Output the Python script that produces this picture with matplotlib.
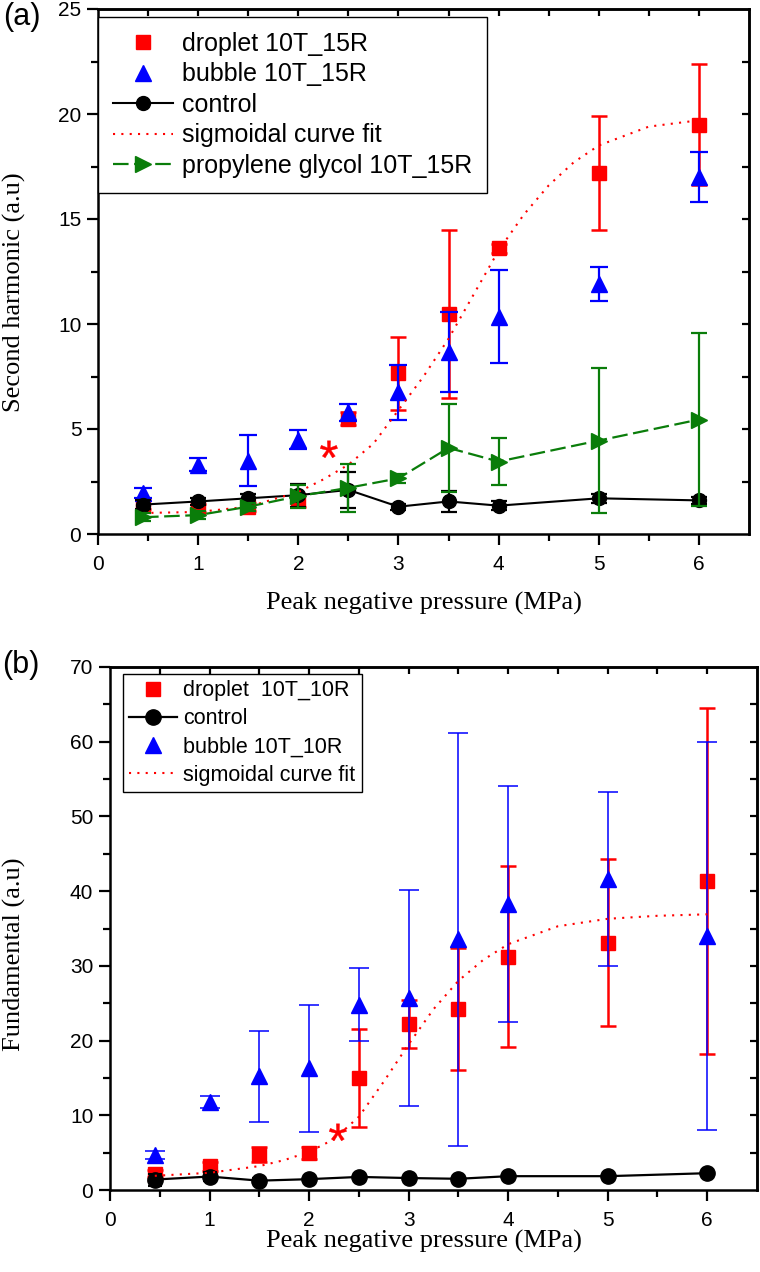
import matplotlib.pyplot as plt
import numpy as np
from matplotlib.font_manager import FontProperties
from matplotlib.path import Path
from matplotlib.textpath import TextPath

# ============================================================
# Data
# ============================================================

pressure = [0.45, 1.0, 1.5, 2.0, 2.5, 3.0, 3.5, 4.0, 5.0, 6.0]

# (a) second harmonic
drop_a = [1.4, 1.25, 1.3, 1.6, 5.5, 7.65, 10.5, 13.6, 17.2, 19.5]
drop_a_err = [0.2, 0.2, 0.2, 0.3, 0.3, 1.75, 4.0, 0.2, 2.7, 2.9]
bub_a = [1.95, 3.3, 3.5, 4.5, 5.8, 6.75, 8.65, 10.35, 11.9, 17.0]
bub_a_err = [0.25, 0.3, 1.2, 0.45, 0.4, 1.3, 1.9, 2.2, 0.8, 1.2]
ctrl_a = [1.4, 1.55, 1.7, 1.85, 2.1, 1.3, 1.55, 1.35, 1.7, 1.6]
ctrl_a_err = [0.2, 0.15, 0.2, 0.55, 0.87, 0.15, 0.5, 0.2, 0.2, 0.15]
pg_a = [0.8, 0.9, 1.3, 1.8, 2.2, 2.65, 4.1, 3.45, 4.45, 5.45]
pg_a_err = [0.2, 0.2, 0.2, 0.55, 1.15, 0.2, 2.1, 1.1, 3.45, 4.1]

fit_a_x = [0.45, 1.0, 1.5, 2.0, 2.25, 2.5, 2.75, 3.0, 3.25, 3.5, 3.75,
           4.0, 4.25, 4.5, 4.75, 5.0, 5.5, 6.0]
fit_a_y = [1.0, 1.05, 1.3, 2.0, 2.6, 3.3, 4.3, 5.9, 7.5, 9.3, 11.4,
           13.5, 15.2, 16.6, 17.7, 18.5, 19.4, 19.7]

star_a = (2.3, 3.66)

# (b) fundamental
drop_b = [2.2, 3.2, 4.8, 5.0, 15.0, 22.2, 24.25, 31.25, 33.1, 41.35]
drop_b_err = [0.5, 0.6, 1.0, 0.8, 6.6, 3.2, 8.15, 12.15, 11.2, 23.15]
bub_b = [4.7, 11.8, 15.2, 16.3, 24.8, 25.7, 33.55, 38.3, 41.65, 34.0]
bub_b_err = [0.5, 0.8, 6.1, 8.5, 4.9, 14.4, 27.65, 15.8, 11.65, 26.0]
ctrl_b = [1.4, 1.8, 1.25, 1.45, 1.75, 1.6, 1.5, 1.85, 1.85, 2.25]
ctrl_b_err = [0.8, 0.6, 0.3, 0.2, 0.2, 0.2, 0.2, 0.2, 0.2, 0.2]

fit_b_x = [0.45, 1.0, 1.5, 1.75, 2.0, 2.25, 2.5, 2.75, 3.0, 3.25, 3.5,
           3.75, 4.0, 4.5, 5.0, 5.5, 6.0]
fit_b_y = [1.9, 2.3, 3.2, 4.0, 5.1, 6.8, 9.8, 14.5, 19.5, 24.2, 28.0,
           30.8, 32.9, 35.3, 36.3, 36.7, 36.9]

star_b = (2.28, 6.7)

RED = "#ff0000"
BLUE = "#0000ff"
GREEN = "#0a7d0a"

SANS = "Liberation Sans"
SERIF = "Liberation Serif"

FIT_LS = (0, (1, 3))

# asterisk marker built from the font glyph, centred on its own box
tp = TextPath((0, 0), "*", size=1, prop=FontProperties(family=SANS))
verts = tp.vertices.copy()
verts -= (verts.min(axis=0) + verts.max(axis=0)) / 2
STAR = Path(verts, tp.codes)

# ============================================================
# Figure
# ============================================================

W, H = 760, 1272
fig = plt.figure(figsize=(W / 100, H / 100), dpi=100)

ax1 = fig.add_axes([98 / W, 1 - 534 / H, (749 - 98) / W, (534 - 9) / H])
ax2 = fig.add_axes([110 / W, 1 - 1190 / H, (757 - 110) / W, (1190 - 667) / H])


def style_axes(ax, ymax, ymajor, yminor):
    ax.set_xlim(0, 6.5)
    ax.set_ylim(0, ymax)
    ax.set_xticks(range(0, 7))
    ax.set_xticks(np.arange(0.5, 6.5, 1.0), minor=True)
    ax.set_yticks(np.arange(0, ymax + 0.1, ymajor))
    ax.set_yticks(np.arange(yminor, ymax, ymajor), minor=True)
    for s in ax.spines.values():
        s.set_linewidth(1.8)
    ax.tick_params(which="major", direction="out", length=8, width=1.6,
                   labelsize=15, pad=4)
    ax.tick_params(axis="x", which="major", pad=7)
    ax.tick_params(which="minor", direction="out", length=5, width=1.6)
    for lab in ax.get_xticklabels() + ax.get_yticklabels():
        lab.set_fontfamily(SANS)

    top = ax.secondary_xaxis("top")
    top.set_xticks(np.arange(0.5, 6.5, 0.5))
    top.tick_params(direction="in", length=5, width=1.6, labeltop=False)
    top.spines["top"].set_linewidth(1.8)

    right = ax.secondary_yaxis("right")
    right.set_yticks(np.arange(yminor, ymax, yminor))
    right.tick_params(direction="in", length=5, width=1.6, labelright=False)
    right.spines["right"].set_linewidth(1.8)


# ---------------- panel (a) ----------------
ax1.errorbar(pressure, drop_a, yerr=drop_a_err, fmt="none", ecolor=RED,
             elinewidth=1.8, capsize=6, capthick=1.8, zorder=2)
ax1.plot(pressure, drop_a, "s", color=RED, ms=10, zorder=2,
         label="droplet 10T_15R")
ax1.errorbar(pressure, bub_a, yerr=bub_a_err, fmt="none", ecolor=BLUE,
             elinewidth=1.6, capsize=6.5, capthick=1.6, zorder=3)
ax1.plot(pressure, bub_a, "^", color=BLUE, ms=12, zorder=3,
         label="bubble 10T_15R")
ax1.errorbar(pressure, ctrl_a, yerr=ctrl_a_err, fmt="none", ecolor="black",
             elinewidth=1.6, capsize=6, capthick=1.6, zorder=4)
ax1.plot(pressure, ctrl_a, "-o", color="black", ms=10, lw=1.5, zorder=4,
         label="control")
ax1.plot(fit_a_x, fit_a_y, ls=FIT_LS, color=RED, lw=1.5, zorder=5,
         label="sigmoidal curve fit")
ax1.errorbar(pressure, pg_a, yerr=pg_a_err, fmt="none", ecolor=GREEN,
             elinewidth=1.6, capsize=6, capthick=1.6, zorder=6)
ax1.plot(pressure, pg_a, ">", color=GREEN, ms=12, ls=(0, (7, 2.5)), lw=1.6,
         zorder=6, label="propylene glycol 10T_15R")
ax1.plot([star_a[0]], [star_a[1]], ls="none", marker=STAR, ms=24,
         color=RED, mec=RED, mew=0.3, zorder=7)

style_axes(ax1, 25, 5, 2.5)
ax1.set_ylabel("Second harmonic (a.u)", fontfamily=SERIF, fontsize=19)
ax1.yaxis.set_label_coords(-0.11, 0.46)
ax1.set_xlabel("Peak negative pressure (MPa)", fontfamily=SERIF, fontsize=19)
ax1.xaxis.set_label_coords(0.5, -0.11)

leg1 = ax1.legend(loc="upper left", bbox_to_anchor=(0.0, 0.985),
                  prop={"family": SANS, "size": 18}, frameon=True,
                  fancybox=False, edgecolor="black", framealpha=1,
                  borderaxespad=0, labelspacing=0.26, handlelength=2.4,
                  handletextpad=0.35, borderpad=0.6)
leg1.get_frame().set_linewidth(1.0)

fig.text(22 / W, 1 - 17 / H, "(a)", fontfamily=SANS, fontsize=22,
         ha="center", va="center")

# ---------------- panel (b) ----------------
ax2.errorbar(pressure, drop_b, yerr=drop_b_err, fmt="none", ecolor=RED,
             elinewidth=1.8, capsize=5.5, capthick=1.8, zorder=2)
ax2.plot(pressure, drop_b, "s", color=RED, ms=10, zorder=2,
         label="droplet  10T_10R")
ax2.errorbar(pressure, ctrl_b, yerr=ctrl_b_err, fmt="none", ecolor="black",
             elinewidth=1.5, capsize=5, capthick=1.5, zorder=4)
ax2.plot(pressure, ctrl_b, "-o", color="black", ms=11, lw=1.6, zorder=4,
         label="control")
ax2.errorbar(pressure, bub_b, yerr=bub_b_err, fmt="none", ecolor=BLUE,
             elinewidth=1.1, capsize=7, capthick=1.1, zorder=3)
ax2.plot(pressure, bub_b, "^", color=BLUE, ms=12, zorder=3,
         label="bubble 10T_10R")
ax2.plot(fit_b_x, fit_b_y, ls=FIT_LS, color=RED, lw=1.5, zorder=5,
         label="sigmoidal curve fit")
ax2.plot([star_b[0]], [star_b[1]], ls="none", marker=STAR, ms=24,
         color=RED, mec=RED, mew=0.3, zorder=7)

style_axes(ax2, 70, 10, 5)
ax2.set_ylabel("Fundamental (a.u)", fontfamily=SERIF, fontsize=19)
ax2.yaxis.set_label_coords(-0.13, 0.45)
ax2.set_xlabel("Peak negative pressure (MPa)", fontfamily=SERIF, fontsize=19)
ax2.xaxis.set_label_coords(0.485, -0.077)

leg2 = ax2.legend(loc="upper left", bbox_to_anchor=(0.02, 0.987),
                  prop={"family": SANS, "size": 15.5}, frameon=True,
                  fancybox=False, edgecolor="black", framealpha=1,
                  borderaxespad=0, labelspacing=0.33, handlelength=2.2,
                  handletextpad=0.3, borderpad=0.3)
leg2.get_frame().set_linewidth(1.0)

fig.text(21 / W, 1 - 665 / H, "(b)", fontfamily=SANS, fontsize=22,
         ha="center", va="center")

fig.savefig("out.png", dpi=100)
